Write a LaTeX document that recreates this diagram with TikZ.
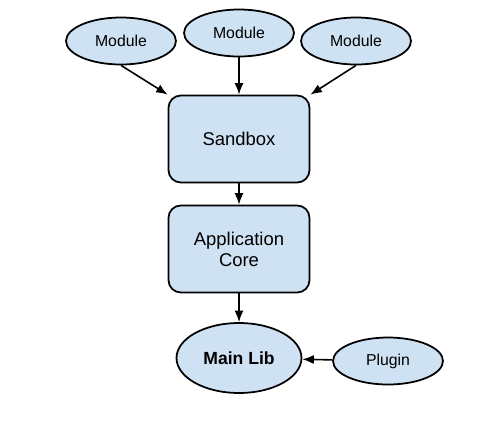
\documentclass[tikz,border=0pt]{standalone}
\usepackage{fontspec}
\setmainfont{Liberation Sans}
\usetikzlibrary{shapes.geometric,arrows.meta}

\begin{document}
\begin{tikzpicture}[
  x=0.02cm, y=-0.02cm,
  module/.style={ellipse, draw=black, line width=1pt, fill=boxblue, minimum width=2.2cm, minimum height=0.94cm, inner sep=0pt, font=\fontsize{9}{10}\selectfont},
  layer/.style={rectangle, rounded corners=7pt, draw=black, line width=1pt, fill=boxblue, minimum width=2.82cm, minimum height=1.74cm, align=center, font=\fontsize{10.5}{12}\selectfont},
  core/.style={ellipse, draw=black, line width=1pt, fill=boxblue, minimum width=2.5cm, minimum height=1.4cm, inner sep=0pt, font=\fontsize{10}{12}\selectfont\bfseries},
  link/.style={draw, line width=0.9pt, -{Latex[length=2.3mm,width=1.8mm]}}
]
\definecolor{boxblue}{RGB}{207,226,243}
\useasboundingbox (0,0) rectangle (500,420);

\node [module] (modleft) at (121,41) {Module};
\node [module] (modmid) at (239,33) {Module};
\node [module] (modright) at (356,41) {Module};
\node [layer] (sandbox) at (239,139) {Sandbox};
\node [layer] (appcore) at (239,249) {Application\\Core};
\node [core] (mainlib) at (239,358) {Main Lib};
\node [module] (plugin) at (388,361) {Plugin};

\draw [link] (modleft.south) -- (sandbox.north west);
\draw [link] (modmid) -- (sandbox);
\draw [link] (modright.south) -- (sandbox.north east);
\draw [link] (sandbox) -- (appcore);
\draw [link] (appcore) -- (mainlib);
\draw [link] (plugin) -- (mainlib);
\end{tikzpicture}
\end{document}
